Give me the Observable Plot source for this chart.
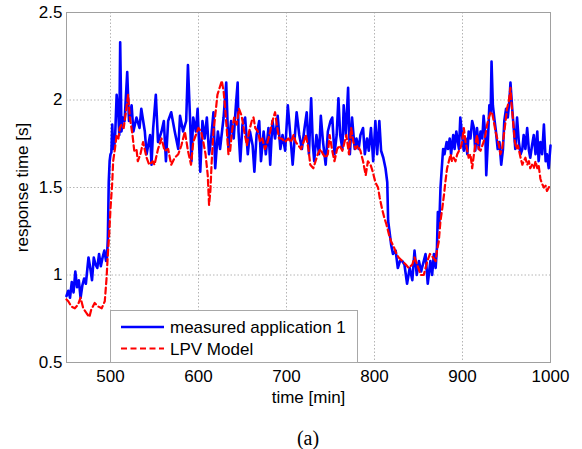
<!DOCTYPE html>
<html>
<head>
<meta charset="utf-8">
<script src="https://cdn.jsdelivr.net/npm/d3@7"></script>
<script src="https://cdn.jsdelivr.net/npm/@observablehq/plot@0.6"></script>
<style>
  html, body { margin: 0; padding: 0; background: #fff; }
  #wrap { position: relative; width: 582px; height: 449px; font-family: "Liberation Sans", Arial, sans-serif; }
  #legend { position: absolute; left: 110px; top: 310px; width: 246px; height: 51px; background: #fff; border: 1px solid #a8a8a8; }
  #caption { position: absolute; left: 0; width: 616px; top: 426px; text-align: center; font-family: "Liberation Serif", "Times New Roman", serif; font-size: 20px; line-height: 24px; }
</style>
</head>
<body>
<div id="wrap"></div>
<script>
// ---- data ----
const blueT = [450,452,454,456,458,460,462,464,466,468,470,472,475,477,479,481,483,485,487,489,491,493,495,496,497,498,499,500,501,502,503,505,507,509,510,511,512.5,514,516,519,521,524,526,529.5,533,535,539,541,545,546.6,548.5,551.5,554,558,560.6,563,565.5,569,573,577,579,582.5,586,588,590.5,592,594,597,599,602,604.5,607,609.5,612,614,617,619,622,624.5,628.5,631.5,634,637,640,642.5,644.5,645.5,647.5,650,653,656,658.5,661.5,663.5,666,669,671,674,676.5,679.5,681.5,684,687,690,693,695.5,698.5,701.5,704,707,709,711.5,714.5,717.5,720.5,723,725.5,728,730,731.5,734,737,739,741.5,744.5,747,750,752,754.5,757,759,761,763.5,765,767.5,770,772,774.5,777.5,779.5,782,784,787,789,791.5,793.5,796,798.5,801,803,805.5,807.5,810,812.5,814.5,815.5,817,819,821,824,826.5,829,831.5,834,837,840,843,845.5,848,850.5,853,856,858,860.5,863.5,865.5,867.5,869.5,871,872,873.5,875,877,878,879.5,882,883.5,885.5,887,889.5,891,893,896,897.5,899.5,901.5,903.5,905.5,907,909,911,913,914.5,916.5,918.5,920.5,922.5,924,926,927,929,930.5,932,933,934.5,936.5,938,940,942,944,946,947.5,949.5,951.5,953.5,954.5,956.5,958.5,960,962,964,966,968,969.5,971.5,973.5,975.5,977,979,981,983,985,986.5,988.5,990.5,992.5,994.5,996,998,1000];
const blueV = [0.88,0.91,0.87,0.96,0.9,1.02,0.93,0.97,0.87,0.94,0.98,0.95,1.1,1.04,0.97,1.1,1.06,1.04,1.12,1.05,1.1,1.14,1.08,1.1,1.21,1.53,1.65,1.69,1.7,1.86,1.72,1.76,2.03,1.91,1.8,2.33,1.82,1.9,1.88,2.16,1.88,1.97,1.82,1.9,1.84,1.95,1.82,1.69,1.8,1.63,1.84,2.03,1.76,1.82,1.88,1.65,1.88,1.93,1.82,1.72,1.91,1.82,1.88,2.2,1.88,1.65,1.9,1.82,1.95,1.59,1.88,1.78,1.9,1.69,1.76,1.93,1.61,1.82,1.72,1.9,2.1,1.72,1.88,1.78,1.97,2.1,1.82,1.65,1.86,1.9,1.69,1.82,1.74,1.59,1.8,1.88,1.65,1.82,1.69,1.84,1.63,1.88,1.78,1.91,1.72,1.8,1.71,1.97,1.82,1.63,1.76,1.93,1.8,1.72,1.84,1.93,1.69,2.01,1.74,1.65,1.8,1.69,1.91,1.76,1.63,1.82,1.88,1.9,1.69,1.8,2.01,1.8,1.72,1.97,1.8,2.07,1.69,1.9,1.72,1.78,1.72,1.8,1.84,1.69,1.78,1.71,1.84,1.65,1.88,1.69,1.88,1.71,1.67,1.61,1.53,1.31,1.25,1.17,1.12,1.14,1.04,1.08,1.08,1.06,0.95,1.04,0.97,1.14,1.0,1.08,1.02,1.08,1.12,0.95,1.08,1.0,1.12,1.04,1.16,1.36,1.27,1.5,1.65,1.72,1.69,1.76,1.72,1.78,1.69,1.8,1.72,1.82,1.72,1.9,1.8,1.71,1.78,1.69,1.82,1.78,1.88,1.84,1.71,1.84,1.72,1.82,1.78,1.91,1.8,1.57,1.78,1.97,1.93,2.22,1.97,1.88,1.82,1.72,1.76,1.63,1.72,1.88,1.95,1.9,2.01,2.1,1.95,1.82,1.72,1.9,1.76,1.69,1.72,1.8,1.72,1.84,1.71,1.67,1.74,1.8,1.69,1.82,1.65,1.76,1.69,1.86,1.65,1.69,1.61,1.74];

const redT = [450,452,455.5,459.5,463,466,469,473,476,478,482,486,490,493.5,495.5,497,498.5,500,502,503,505,507,509,510.5,512.5,515,518,520,522,525,527,529.5,531,534,537,541,544,548,550,554,558,561.5,565.5,569,573,577,580.5,584.5,588,591.5,594,597,600,603,605.5,608,610.5,612,613.5,615,617,619,621.5,624,626.5,628.5,630,632,634,636,638,640.5,643.5,646,649,652,655,657.5,660.5,662.5,664.5,667.5,670,672.5,675.5,678.5,681.5,684,687,689,691.5,694.5,698.5,702,705,708,710.5,713.5,716.5,719.5,722,725,727,730.5,733,735.5,738.5,741.5,744.5,747,749,752,754.5,757.5,760.5,763.5,766,768,771,773.5,776,778.5,781,784,787,790,792.5,795.5,798,801,804,806,808.5,811,813.5,816.5,819,822,825,827.5,831.5,835.5,839,843,845.5,848.5,852.5,856,860,863,866.5,869.5,871,873,875,877,879,880.5,882.5,884.5,886.5,888,890,892,894,896,897.5,899.5,901.5,903.5,905.5,907,909,911,913,914.5,916.5,918.5,920.5,922.5,924,926,928,930,932,933.5,935.5,937.5,939.5,941.5,943,945,947,949,950.5,952.5,954.5,955.5,957.5,959.5,961.5,963,966,968,969.5,971.5,973.5,975.5,977,979,981,983,985,986.5,988.5,990.5,992.5,994.5,996,998,1000];
const redV = [0.86,0.85,0.82,0.81,0.83,0.87,0.81,0.78,0.76,0.8,0.84,0.82,0.81,0.85,0.98,1.12,1.23,1.38,1.53,1.65,1.72,1.8,1.78,1.84,1.86,1.84,1.95,2.03,1.9,1.8,1.71,1.72,1.65,1.69,1.76,1.67,1.63,1.65,1.63,1.72,1.78,1.71,1.72,1.63,1.67,1.69,1.74,1.82,1.71,1.63,1.76,1.8,1.84,1.82,1.76,1.69,1.57,1.4,1.48,1.65,1.82,1.91,2.03,2.07,2.11,2.05,1.97,1.84,1.69,1.71,1.82,1.9,1.86,1.95,1.91,1.82,1.74,1.82,1.88,1.9,1.84,1.82,1.76,1.78,1.72,1.76,1.82,1.88,1.93,1.86,1.78,1.78,1.76,1.78,1.76,1.8,1.76,1.74,1.72,1.76,1.8,1.72,1.63,1.61,1.65,1.69,1.72,1.69,1.67,1.69,1.8,1.71,1.65,1.72,1.74,1.71,1.76,1.8,1.69,1.84,1.76,1.72,1.74,1.71,1.65,1.57,1.65,1.63,1.59,1.53,1.5,1.44,1.38,1.33,1.29,1.23,1.19,1.16,1.12,1.1,1.08,1.06,1.04,1.06,1.1,1.06,1.0,1.0,1.08,1.12,1.1,1.08,1.14,1.19,1.31,1.38,1.46,1.53,1.61,1.65,1.69,1.65,1.67,1.65,1.69,1.71,1.72,1.76,1.84,1.76,1.71,1.67,1.69,1.61,1.69,1.74,1.8,1.72,1.71,1.74,1.76,1.8,1.86,1.9,1.93,1.93,1.88,1.82,1.78,1.74,1.69,1.72,1.8,1.88,1.95,1.99,2.07,1.99,1.88,1.76,1.72,1.74,1.67,1.63,1.65,1.67,1.63,1.65,1.61,1.63,1.61,1.65,1.61,1.63,1.55,1.52,1.5,1.51,1.48,1.5,1.52];

const xTicks = [500, 600, 700, 800, 900, 1000];
const xTickLabels = ["500", "600", "700", "800", "900", "1000"];
const yTicks = [0.5, 1, 1.5, 2, 2.5];
const yTickLabels = ["0.5", "1", "1.5", "2", "2.5"];
const seriesNames = ["measured application 1", "LPV Model"];
const xLabel = "time [min]";
const yLabel = "response time [s]";
const captionText = "(a)";

// ---- build ----
const blue = blueT.map((t, i) => ({t, v: blueV[i]}));
const red = redT.map((t, i) => ({t, v: redV[i]}));

const chart = Plot.plot({
  width: 582,
  height: 410,
  marginLeft: 66,
  marginRight: 32,
  marginTop: 12,
  marginBottom: 48,
  style: {fontFamily: "Liberation Sans, Arial, sans-serif", fontSize: "17px", color: "#000", background: "#fff"},
  x: {domain: [450, 1000]},
  y: {domain: [0.5, 2.5]},
  marks: [
    Plot.gridX(xTicks, {stroke: "#b4b4b4", strokeOpacity: 1, strokeDasharray: "1.5,2"}),
    Plot.gridY(yTicks, {stroke: "#b4b4b4", strokeOpacity: 1, strokeDasharray: "1.5,2"}),
    Plot.frame({stroke: "#a0a0a0"}),
    Plot.axisX(xTicks, {tickSize: 0, tickPadding: 7.5, label: null, fill: "#000", tickFormat: (d) => xTickLabels[xTicks.indexOf(d)]}),
    Plot.axisY(yTicks, {tickSize: 0, tickPadding: 4, label: null, fill: "#000", tickFormat: (d) => yTickLabels[yTicks.indexOf(d)]}),
    Plot.text([xLabel], {frameAnchor: "bottom", dy: 35, lineAnchor: "middle", fill: "#000"}),
    Plot.text([yLabel], {frameAnchor: "left", dx: -44, rotate: -90, lineAnchor: "middle", textAnchor: "middle", fill: "#000"}),
    Plot.line(blue, {x: "t", y: "v", stroke: "#0000ff", strokeWidth: 2.6, strokeLinejoin: "round"}),
    Plot.line(red, {x: "t", y: "v", stroke: "#ff0000", strokeWidth: 2.2, strokeDasharray: "6,3.5"})
  ]
});

const wrap = document.getElementById("wrap");
wrap.appendChild(chart);

// legend (inside the plot area, lower left)
const legend = document.createElement("div");
legend.id = "legend";
legend.innerHTML = `
<svg width="246" height="51" style="display:block">
  <line x1="10" x2="53" y1="16" y2="16" stroke="#0000ff" stroke-width="2.6"/>
  <line x1="10" x2="53" y1="37.5" y2="37.5" stroke="#ff0000" stroke-width="2.2" stroke-dasharray="6,3.5"/>
  <text x="59" y="16" dy="0.36em" font-size="17" font-family="Liberation Sans, Arial, sans-serif" fill="#000">${seriesNames[0]}</text>
  <text x="59" y="37.5" dy="0.36em" font-size="17" font-family="Liberation Sans, Arial, sans-serif" fill="#000">${seriesNames[1]}</text>
</svg>`;
wrap.appendChild(legend);

const cap = document.createElement("div");
cap.id = "caption";
cap.textContent = captionText;
wrap.appendChild(cap);
</script>
</body>
</html>
